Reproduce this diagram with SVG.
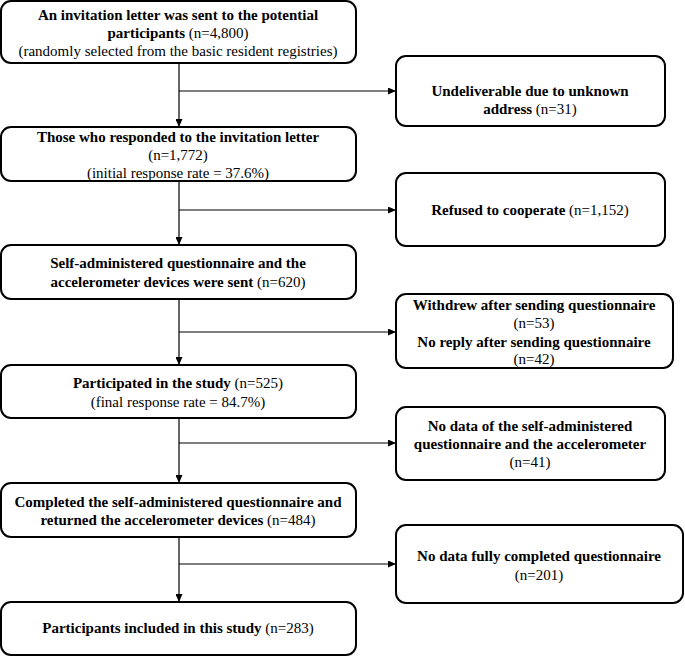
<svg xmlns="http://www.w3.org/2000/svg" width="685" height="656" viewBox="0 0 685 656">
<style>
.box{fill:#fff;stroke:#000;stroke-width:2}
.t{font-family:"Liberation Serif","Times New Roman",serif;font-size:15px;fill:#000;text-anchor:middle}
.b{font-weight:bold}
.c{fill:none;stroke:#000;stroke-width:1.2}
</style>
<defs>
<marker id="ah" markerWidth="8" markerHeight="7" refX="8" refY="3.5" orient="auto" markerUnits="userSpaceOnUse">
<path d="M0,0 L8,3.5 L0,7 Z" fill="#000"/>
</marker>
</defs>
<rect width="685" height="656" fill="#fff"/>
<g id="connectors">
<path class="c" d="M179,63 V127" marker-end="url(#ah)"/>
<path class="c" d="M179,91 H396" marker-end="url(#ah)"/>
<path class="c" d="M179,181 V245" marker-end="url(#ah)"/>
<path class="c" d="M179,210 H396" marker-end="url(#ah)"/>
<path class="c" d="M179,299 V365" marker-end="url(#ah)"/>
<path class="c" d="M179,332 H396" marker-end="url(#ah)"/>
<path class="c" d="M179,418 V483" marker-end="url(#ah)"/>
<path class="c" d="M179,443 H396" marker-end="url(#ah)"/>
<path class="c" d="M179,537 V602" marker-end="url(#ah)"/>
<path class="c" d="M179,564 H396" marker-end="url(#ah)"/>
</g>
<g id="n1">
<rect class="box" x="1" y="1" width="355" height="62" rx="10"/>
<text class="t b" x="178" y="20">An invitation letter was sent to the potential</text>
<text class="t" x="178" y="38"><tspan class="b">participants</tspan> (n=4,800)</text>
<text class="t" x="178" y="56">(randomly selected from the basic resident registries)</text>
</g>
<g id="n2">
<rect class="box" x="1" y="127" width="355" height="54" rx="10"/>
<text class="t b" x="178" y="142">Those who responded to the invitation letter</text>
<text class="t" x="178" y="160">(n=1,772)</text>
<text class="t" x="178" y="178">(initial response rate = 37.6%)</text>
</g>
<g id="n3">
<rect class="box" x="1" y="245" width="355" height="54" rx="10"/>
<text class="t b" x="178" y="268">Self-administered questionnaire and the</text>
<text class="t" x="178" y="287"><tspan class="b">accelerometer devices were sent</tspan> (n=620)</text>
</g>
<g id="n4">
<rect class="box" x="1" y="365" width="355" height="53" rx="10"/>
<text class="t" x="178" y="388"><tspan class="b">Participated in the study</tspan> (n=525)</text>
<text class="t" x="178" y="407">(final response rate = 84.7%)</text>
</g>
<g id="n5">
<rect class="box" x="1" y="483" width="355" height="54" rx="10"/>
<text class="t b" x="178" y="507">Completed the self-administered questionnaire and</text>
<text class="t" x="178" y="525"><tspan class="b">returned the accelerometer devices</tspan> (n=484)</text>
</g>
<g id="n6">
<rect class="box" x="1" y="602" width="355" height="53" rx="10"/>
<text class="t" x="178" y="633"><tspan class="b">Participants included in this study</tspan> (n=283)</text>
</g>
<g id="r1">
<rect class="box" x="396" y="56" width="269" height="70" rx="10"/>
<text class="t b" x="530" y="96">Undeliverable due to unknown</text>
<text class="t" x="530" y="114"><tspan class="b">address</tspan> (n=31)</text>
</g>
<g id="r2">
<rect class="box" x="396" y="173" width="269" height="73" rx="10"/>
<text class="t" x="530" y="215"><tspan class="b">Refused to cooperate</tspan> (n=1,152)</text>
</g>
<g id="r3">
<rect class="box" x="396" y="294" width="277" height="74" rx="10"/>
<text class="t b" x="534" y="310">Withdrew after sending questionnaire</text>
<text class="t" x="534" y="328">(n=53)</text>
<text class="t b" x="534" y="347">No reply after sending questionnaire</text>
<text class="t" x="534" y="364">(n=42)</text>
</g>
<g id="r4">
<rect class="box" x="396" y="407" width="269" height="73" rx="10"/>
<text class="t b" x="530" y="431">No data of the self-administered</text>
<text class="t b" x="530" y="449">questionnaire and the accelerometer</text>
<text class="t" x="530" y="467">(n=41)</text>
</g>
<g id="r5">
<rect class="box" x="396" y="525" width="287" height="78" rx="10"/>
<text class="t b" x="539" y="561">No data fully completed questionnaire</text>
<text class="t" x="539" y="580">(n=201)</text>
</g>
</svg>
